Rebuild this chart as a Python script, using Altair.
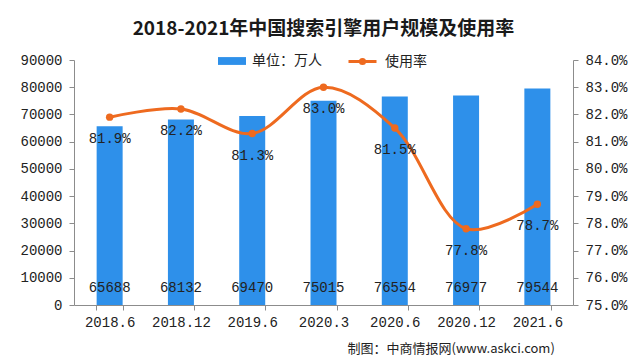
import altair as alt
import pandas as pd

periods = ["2018.6", "2018.12", "2019.6", "2020.3", "2020.6", "2020.12", "2021.6"]
users = [65688, 68132, 69470, 75015, 76554, 76977, 79544]
rates = [81.9, 82.2, 81.3, 83.0, 81.5, 77.8, 78.7]
left_ticks = [0, 10000, 20000, 30000, 40000, 50000, 60000, 70000, 80000, 90000]
right_ticks = [75, 76, 77, 78, 79, 80, 81, 82, 83, 84]

bar_name = "单位：万人"
line_name = "使用率"
title_text = "2018-2021年中国搜索引擎用户规模及使用率"
footer_text = "制图：中商情报网(www.askci.com)"

BLUE = "#2E90EA"
ORANGE = "#EE6A1F"
NUM_FONT = "Liberation Mono"
CJK_FONT = "Noto Sans CJK SC"
AXIS_COLOR = "#8c8c8c"
TEXT_COLOR = "#222222"

df = pd.DataFrame({
    "period": periods,
    "users": users,
    "rate": rates,
    "s1": [bar_name] * len(periods),
    "s2": [line_name] * len(periods),
})
df["rate_label"] = [f"{r:.1f}%" for r in rates]

x_axis = alt.Axis(
    title=footer_text,
    titleFont=CJK_FONT,
    titleFontSize=13,
    titleFontWeight="normal",
    titleColor=TEXT_COLOR,
    titleAlign="left",
    titleBaseline="middle",
    titleX=273,
    titleY=43,
    titleAngle=0,
    labelAngle=0,
    labelFont=NUM_FONT,
    labelFontSize=14,
    labelColor=TEXT_COLOR,
    labelPadding=5,
    labelOverlap=False,
    tickBand="extent",
    tickSize=5,
    tickColor=AXIS_COLOR,
    domainColor=AXIS_COLOR,
)
x_scale = alt.Scale(paddingInner=0.63, paddingOuter=0.315)
x = alt.X("period:N", sort=periods, scale=x_scale, axis=x_axis)

left_axis = alt.Axis(
    title=None,
    values=left_ticks,
    format="d",
    labelFont=NUM_FONT,
    labelFontSize=14,
    labelColor=TEXT_COLOR,
    labelPadding=7,
    labelOverlap=False,
    labelFlush=False,
    tickSize=5,
    tickColor=AXIS_COLOR,
    domainColor=AXIS_COLOR,
    grid=False,
)
left_scale = alt.Scale(domain=[0, 90000], nice=False)

right_axis = alt.Axis(
    title=None,
    orient="right",
    values=right_ticks,
    labelExpr="format(datum.value, '.1f') + '%'",
    labelFont=NUM_FONT,
    labelFontSize=14,
    labelColor=TEXT_COLOR,
    labelPadding=7,
    labelOverlap=False,
    labelFlush=False,
    tickSize=5,
    tickColor=AXIS_COLOR,
    domainColor=AXIS_COLOR,
    grid=False,
)
right_scale = alt.Scale(domain=[75, 84], nice=False, zero=False)
y_right = alt.Y("rate:Q", scale=right_scale, axis=right_axis)

bars = alt.Chart(df).mark_bar(size=26).encode(
    x=x,
    y=alt.Y("users:Q", scale=left_scale, axis=left_axis),
    color=alt.Color(
        "s1:N",
        scale=alt.Scale(domain=[bar_name], range=[BLUE]),
        legend=alt.Legend(
            title=None,
            orient="none",
            legendX=143,
            legendY=-14,
            padding=0,
            symbolType="M-1,-0.28H1V0.28H-1Z",
            symbolSize=784,
            labelFont=CJK_FONT,
            labelFontSize=14,
            labelColor=TEXT_COLOR,
            labelOffset=5,
        ),
    ),
)

bar_text = alt.Chart(df).transform_calculate(base="0").mark_text(
    font=NUM_FONT, fontSize=14, color=TEXT_COLOR, baseline="middle", dy=-17
).encode(
    x=x,
    y=alt.Y("base:Q", scale=left_scale, axis=left_axis),
    text=alt.Text("users:Q", format="d"),
)

left = alt.layer(bars, bar_text)

line = alt.Chart(df).mark_line(strokeWidth=3, interpolate="catmull-rom").encode(
    x=x,
    y=y_right,
    stroke=alt.Stroke(
        "s2:N",
        scale=alt.Scale(domain=[line_name], range=[ORANGE]),
        legend=alt.Legend(
            title=None,
            orient="none",
            legendX=273,
            legendY=-14,
            padding=0,
            symbolType="M-1,0H1M-0.15,0A0.15,0.15,0,1,0,0.15,0A0.15,0.15,0,1,0,-0.15,0",
            symbolSize=784,
            symbolStrokeWidth=3,
            symbolFillColor=ORANGE,
            labelFont=CJK_FONT,
            labelFontSize=14,
            labelColor=TEXT_COLOR,
            labelOffset=7,
        ),
    ),
)

points = alt.Chart(df).mark_point(filled=True, size=55, opacity=1, color=ORANGE).encode(
    x=x,
    y=y_right,
)

rate_text = alt.Chart(df).mark_text(
    font=NUM_FONT, fontSize=14, color=TEXT_COLOR, baseline="middle", dy=22
).encode(
    x=x,
    y=y_right,
    text="rate_label:N",
)

right = alt.layer(line, points, rate_text)

chart = (
    alt.layer(left, right)
    .resolve_scale(y="independent", color="independent", stroke="independent")
    .properties(
        width=499,
        height=245,
        autosize=alt.AutoSizeParams(type="none"),
        padding={"left": 66, "top": 52, "right": 58, "bottom": 50},
        title=alt.Title(
            title_text,
            font=CJK_FONT,
            fontSize=19,
            fontWeight="bold",
            color="#1a1a1a",
            anchor="middle",
            offset=7,
        ),
        background="white",
    )
    .configure_view(stroke=None)
)

chart.save("out.html", embed_options={"renderer": "svg", "actions": False})
